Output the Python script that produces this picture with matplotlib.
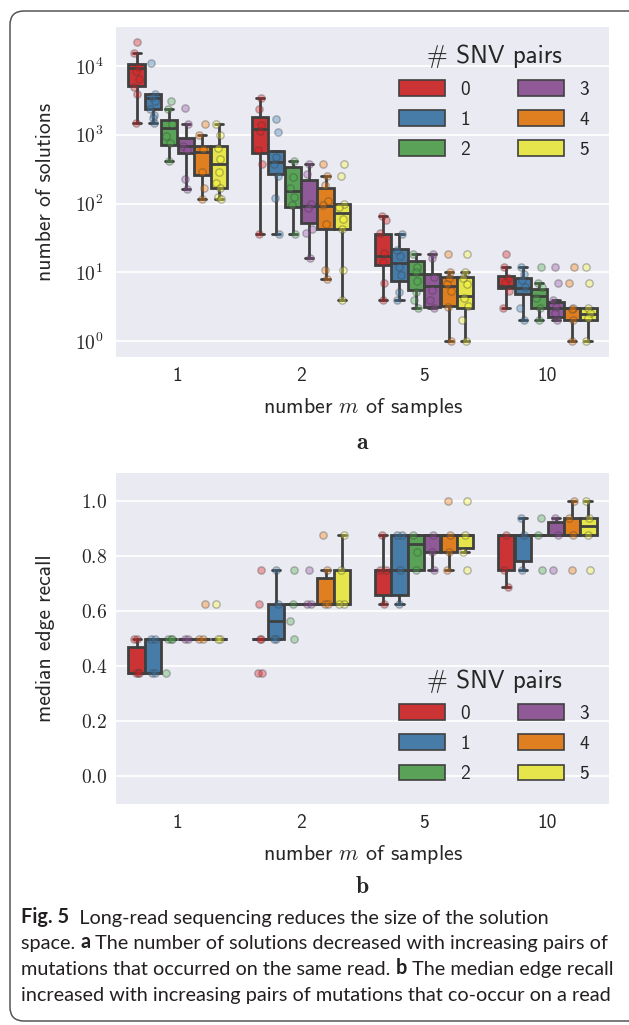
import numpy as np
import matplotlib
matplotlib.use('Agg')
import matplotlib.pyplot as plt
import seaborn as sns
from matplotlib.patches import Patch, FancyBboxPatch
from matplotlib.text import Annotation
from matplotlib.transforms import IdentityTransform

sns.set_style('darkgrid')
plt.rcParams['mathtext.fontset'] = 'cm'
plt.rcParams['font.family'] = ['cmss10', 'DejaVu Sans']
plt.rcParams['axes.unicode_minus'] = False

# ---------------- data ----------------
m_labels = ['1', '2', '5', '10']
hue_labels = ['0', '1', '2', '3', '4', '5']
log_ticks = [1, 10, 100, 1000, 10000]
log_tick_labels = [r'$10^{0}$', r'$10^{1}$', r'$10^{2}$', r'$10^{3}$', r'$10^{4}$']
recall_ticks = [0.0, 0.2, 0.4, 0.6, 0.8, 1.0]
recall_tick_labels = [r'$0.0$', r'$0.2$', r'$0.4$', r'$0.6$', r'$0.8$', r'$1.0$']

# panel a: number of solutions (order: m=1 hues 0..5, m=2 hues 0..5, ...)
a_lo  = [1490, 1490, 415, 162, 115, 115,
         36, 36, 36, 16, 7.9, 3.95,
         4, 4, 3, 3, 1, 1,
         3, 2, 2, 2, 1, 1]
a_q1  = [5100, 2340, 705, 550, 260, 170,
         545, 272, 88, 52, 42.5, 42.5,
         12.7, 7.5, 5.5, 3.15, 3.2, 3,
         6, 4.9, 3, 2.26, 2, 2]
a_med = [9400, 3450, 1240, 690, 565, 375,
         1230, 395, 152, 93, 93, 73,
         17.4, 13.9, 9.4, 6.3, 6.3, 4.5,
         6.3, 6, 4.5, 3, 3, 2.45]
a_q3  = [10500, 3850, 1620, 910, 690, 690,
         1820, 585, 340, 219, 169, 100,
         36, 21.5, 14.7, 9.6, 8.6, 8.6,
         8.9, 8.4, 5.65, 3.7, 3, 3]
a_hi  = [15200, 3850, 2350, 1420, 975, 1420,
         3450, 585, 415, 380, 252, 100,
         66, 36, 18.2, 18.2, 10.2, 10.2,
         12, 12, 7, 4, 3, 3]
a_pts = [
    [22400, 15200, 9600, 8500, 6500, 5000, 3850, 1490],
    [10900, 3900, 3500, 3100, 2400, 1920, 1750, 1490],
    [3100, 2350, 1450, 950, 760, 415],
    [2450, 1420, 690, 600, 225, 162],
    [1420, 975, 620, 290, 167, 115],
    [1420, 975, 640, 450, 290, 200, 167, 125, 115],
    [3450, 2400, 1400, 1150, 600, 380, 36],
    [1690, 1100, 480, 380, 255, 121, 36],
    [415, 245, 170, 125, 95, 36],
    [380, 270, 100, 85, 42, 37.5, 16],
    [380, 252, 185, 110, 95, 50, 11, 7.9],
    [380, 252, 100, 90, 60, 42.5, 11, 3.95],
    [66, 57, 37, 19, 14, 7, 4],
    [36, 21, 17, 12, 9, 5.2, 4],
    [18.2, 12, 10, 7.6, 5.2, 4, 3],
    [18.2, 16, 8.5, 5.6, 4, 3],
    [18.2, 10.2, 8.4, 6.8, 5.3, 3.1, 1],
    [18.2, 10.2, 8.4, 6.8, 4.2, 3.2, 2, 1],
    [18.2, 12, 8.4, 7.2, 5.4, 3],
    [12, 9.6, 7.8, 6.1, 3, 2],
    [12, 7, 6.2, 4.2, 3, 2],
    [12, 7, 4, 3.1, 2.6, 2],
    [12, 7, 3, 2.9, 2, 1],
    [12, 7, 3, 2.6, 2.2, 1],
]

# panel b: median edge recall
b_lo  = [.375, .375, .5, .5, .5, .5,
         .5, .5, .625, .625, .625, .625,
         .625, .625, .75, .75, .75, .8125,
         .6875, .75, .875, .875, .875, .875]
b_q1  = [.375, .375, .5, .5, .5, .5,
         .5, .5, .625, .625, .625, .625,
         .65625, .65625, .75, .8125, .8125, .828125,
         .75, .78125, .875, .875, .875, .875]
b_med = [.375, .5, .5, .5, .5, .5,
         .5, .5625, .625, .625, .625, .625,
         .75, .75, .84375, .875, .875, .875,
         .875, .875, .875, .875, .875, .90625]
b_q3  = [.46875, .5, .5, .5, .5, .5,
         .5, .625, .625, .625, .71875, .75,
         .75, .875, .875, .875, .875, .875,
         .875, .875, .875, .921875, .9375, .9375]
b_hi  = [.5, .5, .5, .5, .5, .5,
         .5, .75, .625, .625, .75, .875,
         .875, .875, .875, .875, .875, .875,
         .875, .9375, .875, .9375, 1.0, 1.0]
b_pts = [
    [.5, .5, .375, .375, .375],
    [.5, .5, .375, .375],
    [.5, .5, .5, .375],
    [.5, .5],
    [.625, .5, .5],
    [.625, .5, .5],
    [.75, .625, .5, .5, .375, .375],
    [.75, .625, .5, .5],
    [.75, .625, .5625, .5],
    [.75, .625, .625],
    [.875, .75, .625, .625],
    [.875, .75, .625, .625],
    [.875, .75, .75, .625],
    [.875, .875, .75, .625],
    [.875, .8125, .75],
    [.875, .8125, .75],
    [1.0, .875, .8125, .75],
    [1.0, .875, .8125, .75],
    [.875, .75, .6875],
    [.9375, .875, .75],
    [.9375, .875, .75],
    [.9375, .875, .75],
    [1.0, .9375, .875, .75],
    [1.0, .9375, .875, .75],
]

# ---------------- style ----------------
base_colors = sns.color_palette('Set1', 6)
box_colors = [sns.desaturate(c, 0.75) for c in base_colors]
edge_gray = '#404040'
jitter = [0.0, -0.018, 0.014, -0.008, 0.02, -0.024, 0.007, -0.003, 0.011]

W, H = 629, 1025
fig = plt.figure(figsize=(W / 100, H / 100), dpi=100)
fig.patch.set_facecolor('white')

def px_axes(left, top, right, bottom):
    return fig.add_axes([left / W, 1 - bottom / H, (right - left) / W, (bottom - top) / H])

ax_a = px_axes(116, 27, 609, 357)
ax_b = px_axes(116, 473, 609, 804)

n_h = len(hue_labels)
group_w = 0.8
box_w = group_w / n_h

def draw_panel(ax, lo, q1, med, q3, hi, pts):
    stats, positions = [], []
    k = 0
    for i in range(len(m_labels)):
        for j in range(n_h):
            stats.append(dict(whislo=lo[k], q1=q1[k], med=med[k], q3=q3[k], whishi=hi[k]))
            positions.append(i - group_w / 2 + box_w * (j + 0.5))
            k += 1
    bp = ax.bxp(stats, positions=positions, widths=box_w * 0.98, patch_artist=True,
                showfliers=False, manage_ticks=False,
                boxprops=dict(edgecolor=edge_gray, linewidth=2.0),
                medianprops=dict(color=edge_gray, linewidth=2.0),
                whiskerprops=dict(color=edge_gray, linewidth=2.0),
                capprops=dict(color=edge_gray, linewidth=2.0))
    for k, patch in enumerate(bp['boxes']):
        patch.set_facecolor(box_colors[k % n_h])
        patch.set_zorder(2)
    for key in ('medians', 'whiskers', 'caps'):
        for ln in bp[key]:
            ln.set_zorder(2.1)
    for k, vals in enumerate(pts):
        c = base_colors[k % n_h]
        xs = [positions[k] + jitter[(t + k) % len(jitter)] for t in range(len(vals))]
        ax.scatter(xs, vals, s=28, facecolor=c, edgecolor=edge_gray, linewidth=1.0,
                   alpha=0.35, zorder=3)
    ax.set_xlim(-0.5, len(m_labels) - 0.5)
    ax.set_xticks(range(len(m_labels)))
    ax.set_xticklabels(m_labels, fontsize=14)
    ax.grid(axis='x', visible=False)
    ax.grid(axis='y', color='white', linewidth=1.3)
    ax.set_facecolor('#EAEAF2')
    for s in ax.spines.values():
        s.set_visible(False)
    ax.tick_params(length=0)
    ax.tick_params(axis='x', pad=7)
    ax.set_xlabel(r'number $m$ of samples', fontsize=15.8, labelpad=8)
    handles = [Patch(facecolor=box_colors[j], edgecolor=edge_gray, linewidth=1.2, label=hue_labels[j])
               for j in range(n_h)]
    return handles

h = draw_panel(ax_a, a_lo, a_q1, a_med, a_q3, a_hi, a_pts)
ax_a.set_yscale('log')
ax_a.set_ylim(10 ** -0.23, 10 ** 4.565)
ax_a.set_yticks(log_ticks)
ax_a.set_yticklabels(log_tick_labels, fontsize=14)
ax_a.yaxis.set_minor_locator(matplotlib.ticker.NullLocator())
ax_a.tick_params(axis='y', pad=9)
ax_a.set_ylabel('number of solutions', fontsize=15.5)
ax_a.yaxis.set_label_coords(-0.124, 0.5)

h = draw_panel(ax_b, b_lo, b_q1, b_med, b_q3, b_hi, b_pts)
ax_b.set_ylim(-0.1, 1.1)
ax_b.set_yticks(recall_ticks)
ax_b.set_yticklabels(recall_tick_labels, fontsize=14)
ax_b.tick_params(axis='y', pad=6.5)
ax_b.set_ylabel('median edge recall', fontsize=15.5)
ax_b.yaxis.set_label_coords(-0.124, 0.5)

leg_kw = dict(ncol=2, frameon=False, fontsize=14, title='# SNV pairs', title_fontsize=18,
              handlelength=2.35, handleheight=0.85, labelspacing=0.6, handletextpad=0.8,
              columnspacing=2.45, borderpad=0, borderaxespad=0)
ax_a.legend(handles=h, loc='upper right', bbox_to_anchor=((589 - 116) / 493, (357 - 45) / 330), **leg_kw)
ax_b.legend(handles=h, loc='lower right', bbox_to_anchor=((589 - 116) / 493, (804 - 783) / 331), **leg_kw)

# panel letters
fig.text(362 / W, 1 - 443 / H, 'a', fontsize=17, family='cmb10', ha='center', va='center')
fig.text(362 / W, 1 - 887 / H, 'b', fontsize=17, family='cmb10', ha='center', va='center')

# caption
cap_color = '#231f20'
cap_font = 'Lato'
cap_size = 14.3
caption_lines = [
    [('Fig. 5', 'bold'), ('  Long-read sequencing reduces the size of the solution', 'normal')],
    [('space. ', 'normal'), ('a', 'bold'), (' The number of solutions decreased with increasing pairs of', 'normal')],
    [('mutations that occurred on the same read. ', 'normal'), ('b', 'bold'), (' The median edge recall', 'normal')],
    [('increased with increasing pairs of mutations that co-occur on a read', 'normal')],
]
caption_y = [927, 952.5, 978, 1003.5]
for segs, yb in zip(caption_lines, caption_y):
    prev = None
    for txt, wt in segs:
        if prev is None:
            prev = fig.text(21 / W, 1 - yb / H, txt, fontsize=cap_size, family=cap_font,
                            weight=wt, color=cap_color, ha='left', va='bottom')
        else:
            prev = fig.add_artist(Annotation(txt, xy=(1, 0), xycoords=prev, fontsize=cap_size,
                                             family=cap_font, weight=wt, color=cap_color,
                                             ha='left', va='bottom'))

# frame
frame = FancyBboxPatch((10, H - 1021), 640, 1010, boxstyle='round,pad=0,rounding_size=14',
                       transform=IdentityTransform(), facecolor='none', edgecolor='#555555',
                       linewidth=1.1, zorder=0)
fig.add_artist(frame)

fig.savefig('out.png', dpi=100, facecolor='white')
